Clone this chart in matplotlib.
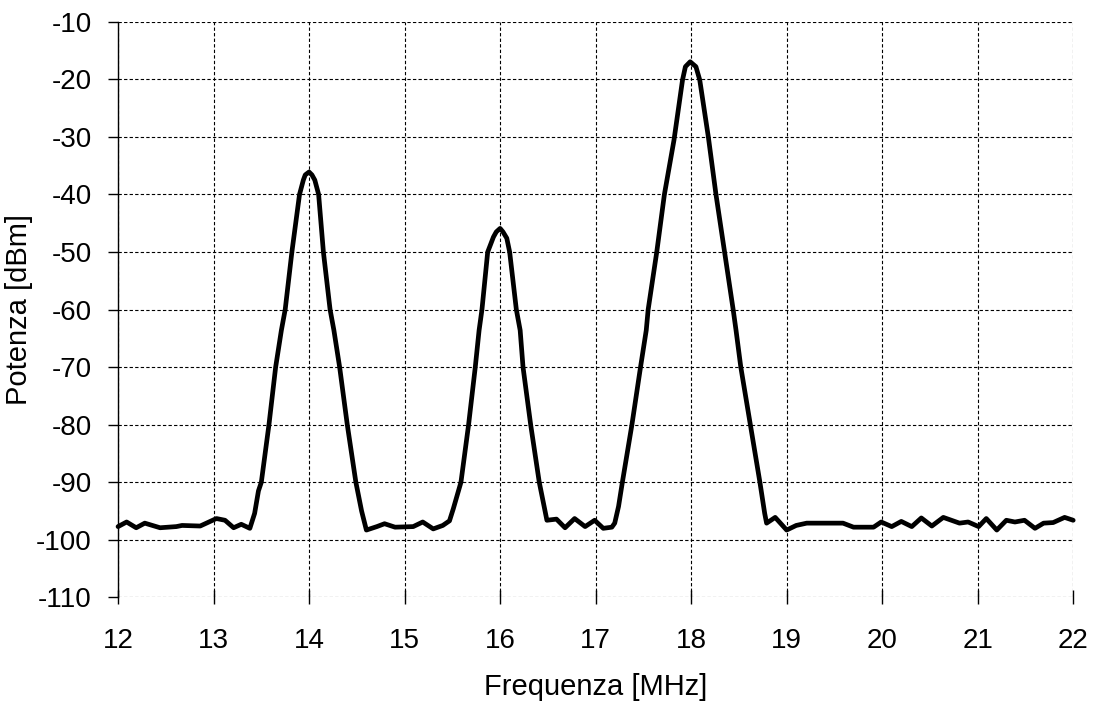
import numpy as np
import matplotlib.pyplot as plt

plt.rcParams['font.family'] = ['Liberation Sans', 'DejaVu Sans']

# frequenza [MHz] e potenza [dBm]
freq = [12.00, 12.09, 12.19, 12.28, 12.44, 12.61, 12.67, 12.86, 13.03, 13.12,
        13.21, 13.29, 13.38, 13.43, 13.47, 13.50, 13.58, 13.65, 13.71, 13.75,
        13.82, 13.90, 13.94, 13.96, 14.00, 14.03, 14.06, 14.10, 14.15, 14.22,
        14.26, 14.32, 14.40, 14.49, 14.55, 14.60, 14.71, 14.79, 14.90, 15.09,
        15.19, 15.30, 15.40, 15.47, 15.51, 15.59, 15.67, 15.74, 15.78, 15.81,
        15.87, 15.93, 15.96, 16.00, 16.03, 16.07, 16.10, 16.17, 16.21, 16.24,
        16.32, 16.41, 16.49, 16.59, 16.68, 16.78, 16.89, 16.99, 17.08, 17.17,
        17.20, 17.24, 17.28, 17.38, 17.47, 17.53, 17.55, 17.64, 17.72, 17.82,
        17.91, 17.94, 17.99, 18.05, 18.09, 18.18, 18.26, 18.35, 18.44, 18.47,
        18.52, 18.62, 18.72, 18.77, 18.79, 18.88, 19.00, 19.10, 19.21, 19.59,
        19.70, 19.91, 19.99, 20.10, 20.20, 20.31, 20.41, 20.52, 20.64, 20.81,
        20.90, 21.01, 21.09, 21.20, 21.30, 21.39, 21.49, 21.60, 21.69, 21.79,
        21.91, 22.00]
potenza = [-97.7, -96.9, -97.9, -97.1, -97.9, -97.7, -97.5, -97.6, -96.3, -96.6,
           -97.9, -97.3, -98.0, -95.4, -91.5, -90.0, -80.0, -70.0, -63.6, -60.0,
           -50.0, -40.0, -37.5, -36.6, -36.1, -36.6, -37.5, -40.0, -50.0, -60.0,
           -63.6, -70.0, -80.0, -90.0, -95.0, -98.3, -97.7, -97.2, -97.8, -97.7,
           -96.9, -98.1, -97.5, -96.7, -94.6, -90.0, -80.0, -70.0, -63.6, -60.0,
           -50.0, -47.4, -46.5, -45.9, -46.5, -47.6, -50.0, -60.0, -63.6, -70.0,
           -80.0, -90.0, -96.6, -96.4, -97.9, -96.3, -97.7, -96.6, -98.0, -97.8,
           -97.1, -94.2, -90.0, -80.0, -70.0, -63.6, -60.0, -50.0, -40.0, -30.6,
           -20.1, -17.8, -16.95, -17.8, -20.1, -30.0, -40.0, -50.0, -60.0, -63.6,
           -70.0, -80.0, -90.0, -95.4, -97.1, -96.1, -98.3, -97.5, -97.1, -97.1,
           -97.8, -97.8, -96.9, -97.7, -96.8, -97.7, -96.2, -97.6, -96.1, -97.1,
           -96.9, -97.7, -96.3, -98.3, -96.6, -96.9, -96.6, -98.0, -97.1, -97.0,
           -96.1, -96.6]

x_ticks = np.arange(12, 23, 1)
y_ticks = np.arange(-110, 0, 10)

fig = plt.figure(figsize=(10.96, 7.02), dpi=100)
ax = fig.add_axes([0.1077, 0.149, 0.8715, 0.820])

ax.plot(freq, potenza, color='black', linewidth=3.4, solid_joinstyle='round',
        solid_capstyle='round', zorder=3, clip_on=False)

ax.set_xlim(12, 22)
ax.set_ylim(-110, -10)
ax.set_xticks(x_ticks)
ax.set_yticks(y_ticks)
ax.set_xticklabels([str(v) for v in x_ticks])
ax.set_yticklabels([str(v) for v in y_ticks])

ax.grid(True, color='black', linestyle=(0, (3, 2)), linewidth=0.8)
ax.set_axisbelow(True)
for s in ['top', 'right', 'bottom']:
    ax.spines[s].set_visible(False)
ax.spines['left'].set_linewidth(1.0)

ax.tick_params(axis='x', direction='inout', length=10, width=1, pad=17, labelsize=20)
ax.tick_params(axis='y', direction='out', length=7, width=1, pad=12, labelsize=20)

ax.set_xlabel('Frequenza [MHz]', fontsize=21, labelpad=14)
ax.set_ylabel('Potenza [dBm]', fontsize=21, labelpad=2)

fig.savefig('out.png', dpi=100)
